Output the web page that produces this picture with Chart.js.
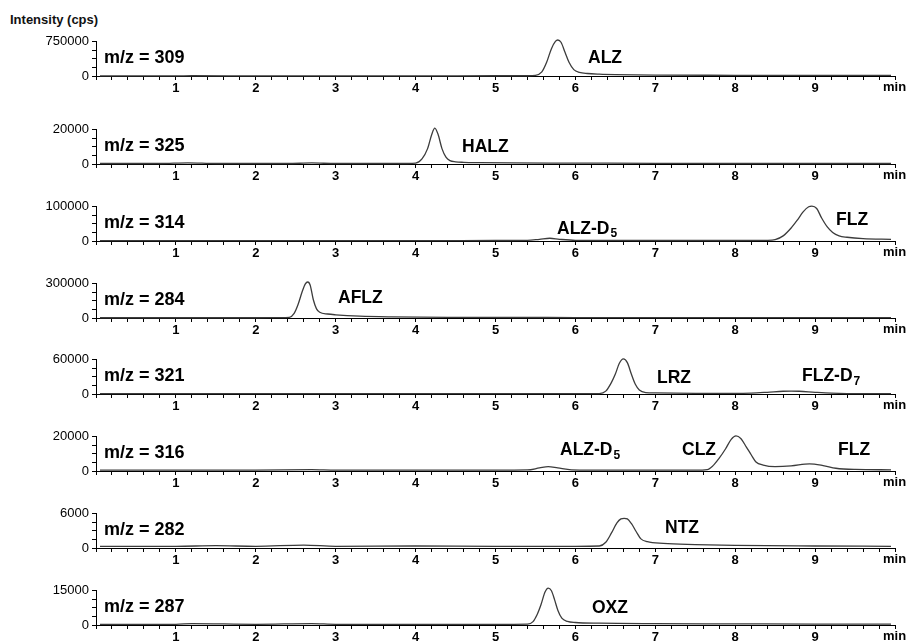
<!DOCTYPE html>
<html>
<head>
<meta charset="utf-8">
<script src="https://cdn.jsdelivr.net/npm/chart.js@4.4.0/dist/chart.umd.min.js"></script>
<style>
  body { margin: 0; background: #fff; width: 909px; height: 643px; overflow: hidden; position: relative; }
  canvas { position: absolute; left: 0; }
  #ylabel { position: absolute; left: 10px; top: 12px; font: bold 13px "Liberation Sans", Arial, sans-serif; color: #111; }
</style>
</head>
<body>
<div id="ylabel">Intensity (cps)</div>
<script>
// chromatogram data, one pair of arrays per m/z channel (time in min, intensity in cps)
const t309 = [0.05, 1.0, 1.2, 2.0, 3.0, 4.0, 5.0, 5.4, 5.5, 5.58, 5.64, 5.7, 5.75, 5.78, 5.82, 5.87, 5.92, 5.98, 6.05, 6.15, 6.3, 6.5, 7.0, 8.0, 9.0, 9.95];
const i309 = [3000, 3000, 5000, 4000, 4000, 4000, 5000, 6000, 15000, 90000, 300000, 600000, 760000, 790000, 740000, 520000, 300000, 140000, 80000, 55000, 40000, 30000, 20000, 15000, 12000, 12000];

const t325 = [0.05, 0.8, 1.15, 1.5, 2.4, 2.7, 3.0, 3.9, 4.0, 4.08, 4.15, 4.2, 4.24, 4.28, 4.33, 4.38, 4.43, 4.5, 4.6, 4.8, 5.2, 6, 7, 8, 9, 9.95];
const i325 = [300, 300, 700, 300, 300, 600, 300, 300, 500, 3000, 9000, 17000, 21000, 17500, 9000, 4000, 2000, 1300, 1000, 800, 600, 500, 400, 300, 300, 300];

const t314 = [0.05, 1, 2, 3, 4, 5, 5.4, 5.55, 5.68, 5.8, 6.0, 7, 8, 8.4, 8.5, 8.6, 8.7, 8.78, 8.85, 8.92, 8.96, 9.02, 9.08, 9.15, 9.22, 9.3, 9.4, 9.6, 9.95];
const i314 = [1000, 1000, 1000, 1000, 1000, 1500, 2000, 5000, 8000, 5000, 2000, 1500, 1500, 2000, 4000, 15000, 38000, 62000, 85000, 100000, 102000, 95000, 68000, 42000, 25000, 15000, 11000, 7000, 5000];

const t284 = [0.05, 1, 2, 2.3, 2.42, 2.48, 2.53, 2.58, 2.62, 2.65, 2.68, 2.72, 2.76, 2.8, 2.9, 3.0, 3.3, 3.7, 4.5, 6, 8, 9.95];
const i284 = [2000, 2000, 2000, 3000, 6000, 40000, 120000, 230000, 300000, 316000, 290000, 160000, 80000, 50000, 35000, 28000, 16000, 10000, 6000, 4000, 3000, 3000];

const t321 = [0.05, 1, 2, 3, 4, 5, 6, 6.3, 6.38, 6.45, 6.5, 6.55, 6.6, 6.65, 6.7, 6.75, 6.8, 6.88, 7.0, 7.5, 8.0, 8.2, 8.4, 8.6, 8.7, 8.8, 9.0, 9.2, 9.4, 9.95];
const i321 = [500, 500, 500, 500, 500, 500, 500, 800, 5000, 20000, 35000, 54000, 61600, 55000, 35000, 17000, 7000, 2500, 1800, 1200, 1000, 1500, 3000, 4800, 5200, 4800, 3000, 1500, 800, 500];

const t316 = [0.05, 1, 2, 2.7, 3, 4, 5, 5.4, 5.55, 5.66, 5.78, 5.95, 6.5, 7.5, 7.65, 7.72, 7.8, 7.88, 7.95, 8.01, 8.07, 8.14, 8.2, 8.26, 8.35, 8.5, 8.7, 8.93, 9.1, 9.26, 9.5, 9.95];
const i316 = [500, 500, 500, 800, 500, 500, 500, 600, 1800, 2600, 1800, 700, 500, 500, 800, 3000, 7500, 13000, 18500, 20500, 19000, 14000, 9500, 5300, 3500, 2600, 3000, 4200, 3200, 1600, 900, 700];

const t282 = [0.05, 1, 1.5, 2, 2.6, 3, 4, 5, 6, 6.3, 6.38, 6.45, 6.52, 6.57, 6.61, 6.65, 6.7, 6.76, 6.82, 6.9, 7.1, 7.5, 8, 9, 9.95];
const i282 = [300, 300, 400, 300, 500, 300, 350, 300, 300, 350, 1000, 2600, 4400, 5100, 5200, 5100, 4300, 2900, 1600, 1100, 800, 600, 450, 350, 300];

const t287 = [0.05, 1, 1.2, 2, 2.7, 3, 4, 5, 5.4, 5.47, 5.52, 5.57, 5.62, 5.66, 5.7, 5.74, 5.78, 5.83, 5.9, 6.0, 6.3, 7, 8, 9, 9.95];
const i287 = [300, 300, 600, 300, 600, 300, 300, 300, 400, 1500, 4500, 9000, 14500, 16200, 15000, 11000, 6500, 3000, 1600, 1100, 800, 600, 500, 400, 400];

const mzLabels = ['m/z = 309', 'm/z = 325', 'm/z = 314', 'm/z = 284', 'm/z = 321', 'm/z = 316', 'm/z = 282', 'm/z = 287'];
const yMaxes = [750000, 20000, 100000, 300000, 60000, 20000, 6000, 15000];
const times = [t309, t325, t314, t284, t321, t316, t282, t287];
const intens = [i309, i325, i314, i284, i321, i316, i282, i287];

// peak names: [text, subscript]
const peakNames = [
  [['ALZ', '']],
  [['HALZ', '']],
  [['ALZ-D', '5'], ['FLZ', '']],
  [['AFLZ', '']],
  [['LRZ', ''], ['FLZ-D', '7']],
  [['ALZ-D', '5'], ['CLZ', ''], ['FLZ', '']],
  [['NTZ', '']],
  [['OXZ', '']]
];

// layout (pixels): plot top per panel, label positions [x, y offset from plot top]
const plotTops = [39, 127, 204, 281, 357, 434, 511, 588];
const plotH = 37, padTop = 8, xAxisH = 20;
const peakPos = [
  [[588, 16]],
  [[462, 17]],
  [[557, 22], [836, 13]],
  [[338, 14]],
  [[657, 18], [802, 16.5]],
  [[560, 13.5], [682, 13], [838, 13]],
  [[665, 14]],
  [[592, 17.5]]
];

const FONT = '"Liberation Sans", Arial, sans-serif';

const labelPlugin = {
  id: 'panelLabels',
  afterDraw(chart) {
    const p = chart.options.plugins.panelLabels;
    const ctx = chart.ctx;
    const top = chart.chartArea.top;
    ctx.save();
    ctx.fillStyle = '#000';
    ctx.textBaseline = 'middle';
    ctx.textAlign = 'left';
    ctx.font = 'bold 18px ' + FONT;
    ctx.fillText(p.mz, chart.chartArea.left + 8, top + 16.5);
    p.peaks.forEach((pk, k) => {
      const [x, dy] = p.pos[k];
      ctx.font = 'bold 17.5px ' + FONT;
      ctx.fillText(pk[0], x, top + dy);
      if (pk[1]) {
        const w = ctx.measureText(pk[0]).width;
        ctx.font = 'bold 12px ' + FONT;
        ctx.fillText(pk[1], x + w + 1, top + dy + 5);
      }
    });
    // axis unit
    ctx.font = 'bold 13px ' + FONT;
    ctx.fillText('min', 883, chart.chartArea.bottom + 11.5);
    ctx.restore();
  }
};

for (let n = 0; n < 8; n++) {
  const cv = document.createElement('canvas');
  cv.width = 909;
  cv.height = padTop + plotH + xAxisH;
  cv.style.top = (plotTops[n] - padTop) + 'px';
  document.body.appendChild(cv);
  const yMax = yMaxes[n];

  new Chart(cv.getContext('2d'), {
    type: 'line',
    data: {
      datasets: [{
        data: times[n].map((t, i) => ({ x: t, y: intens[n][i] })),
        borderColor: '#3c3c3c',
        borderWidth: 1.3,
        pointRadius: 0,
        cubicInterpolationMode: 'monotone',
        clip: false
      }]
    },
    options: {
      responsive: false,
      animation: false,
      layout: { padding: { top: padTop, right: 14, left: 0, bottom: 0 } },
      plugins: {
        legend: { display: false },
        tooltip: { enabled: false },
        panelLabels: { mz: mzLabels[n], peaks: peakNames[n], pos: peakPos[n] }
      },
      scales: {
        x: {
          type: 'linear',
          min: 0,
          max: 10,
          afterBuildTicks: s => {
            const tk = [];
            for (let i = 0; i <= 50; i++) tk.push({ value: i / 5 });
            s.ticks = tk;
          },
          afterFit: s => { s.height = xAxisH; },
          ticks: {
            autoSkip: false,
            maxRotation: 0,
            padding: 1,
            color: '#000',
            font: { family: FONT, size: 13, weight: 'bold' },
            callback: v => {
              const r = Math.round(v);
              return (Math.abs(v - r) < 1e-6 && r >= 1 && r <= 9) ? String(r) : '';
            }
          },
          grid: { drawOnChartArea: false, tickLength: 4, color: '#000' },
          border: { color: '#000', width: 1 }
        },
        y: {
          min: 0,
          max: yMax,
          afterBuildTicks: s => {
            s.ticks = [0, 0.25, 0.5, 0.75, 1].map(f => ({ value: f * yMax }));
          },
          afterFit: s => { s.width = 96; },
          ticks: {
            autoSkip: false,
            padding: 3,
            color: '#000',
            font: { family: FONT, size: 13 },
            callback: v => (v === 0 || v === yMax) ? String(v) : ''
          },
          grid: { drawOnChartArea: false, tickLength: 4, color: '#000' },
          border: { color: '#000', width: 1 }
        }
      }
    },
    plugins: [labelPlugin]
  });
}
</script>
</body>
</html>
